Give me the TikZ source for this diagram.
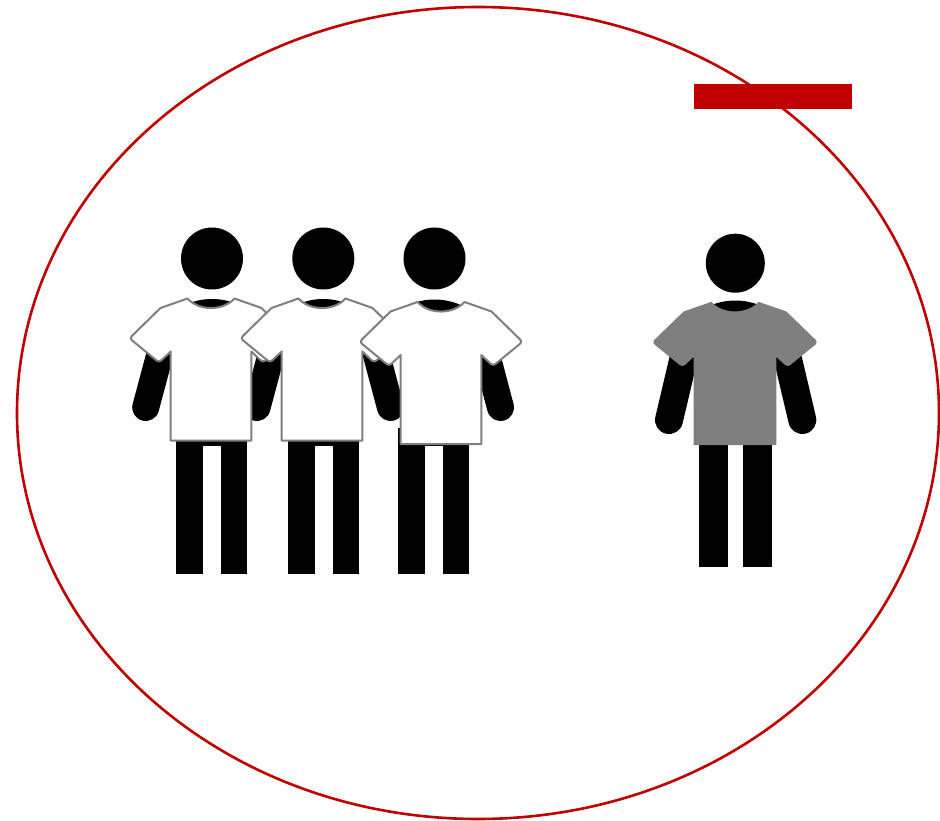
\documentclass[tikz,border=0pt]{standalone}
\definecolor{brickred}{HTML}{C00000}
\definecolor{shirtgray}{HTML}{7F7F7F}
\tikzset{
  limb/.style={black,line width=27pt,line cap=round},
  whiteshirt/.style={fill=white,draw=shirtgray,line width=2pt,line join=round},
  grayshirt/.style={fill=shirtgray,draw=shirtgray,line width=1.2pt,line join=round},
}
% #1 style, #2 x, #3 y, #4 xscale
\newcommand{\tshirt}[4]{%
  \path[#1,shift={(#2,#3)},xscale=#4]
    (-23.5,0) .. controls (-12,12.7) and (12,12.7) .. (23.5,0)
    -- (50.5,9.5) [rounded corners=3pt] -- (81.5,39.8) -- (52,64) [sharp corners] -- (40.3,53)
    -- (40.3,142) -- (-40.3,142) -- (-40.3,53)
    [rounded corners=3pt] -- (-52,64) -- (-81.5,39.8) [sharp corners] -- (-50.5,9.5) -- cycle;
}
% #1 x centre, #2 y top of shoulders
\newcommand{\shoulders}[2]{%
  \fill[black,shift={(#1,#2)}] (-42,14) .. controls (-25,3) and (-12,0) .. (0,0)
    .. controls (12,0) and (25,3) .. (42,14) -- (0,30) -- cycle;
}
% #1 left x of left leg, #2 hip top, #3 hip bottom, #4 leg bottom, #5 leg width, #6 total width
\newcommand{\legpair}[6]{%
  \fill[black] (#1,#2) rectangle ++(#6,#3-#2);
  \fill[black] (#1,#2) rectangle ++(#5,#4-#2);
  \fill[black] (#1+#6-#5,#2) rectangle ++(#5,#4-#2);
}
\begin{document}
\begin{tikzpicture}[x=1pt,y=-1pt]
\useasboundingbox (0,0) rectangle (940,821);
% outer ellipse and bar
\draw[brickred,line width=2.6pt] (478,413) ellipse [x radius=461,y radius=406];
\fill[brickred] (694,84) rectangle (852,109);
% heads
\fill[black] (212,258.5) circle (31);
\fill[black] (323.3,258.5) circle (31);
\fill[black] (434.5,258.5) circle (31);
\fill[black] (735.3,263.2) circle (29.5);
% bodies behind the shirts
\shoulders{212}{299}
\shoulders{323.3}{299}
\shoulders{434.5}{299.5}
\shoulders{735.3}{300.5}
% legs
\legpair{176.3}{428}{446}{573.5}{26.5}{71}
\legpair{288.3}{428}{446}{573.5}{26.5}{71}
\legpair{398.3}{428}{446}{573.5}{26.5}{71}
\legpair{698.7}{428}{445}{566.5}{29}{73}
% arms
\draw[limb] (162.4,345) -- (145.7,407.5);
\draw[limb] (273.7,345) -- (257,407.5);
\draw[limb] (373.8,345) -- (390.5,407.5);
\draw[limb] (484,345) -- (500.5,407.5);
\draw[limb,line width=28pt] (685.5,350) -- (669,420);
\draw[limb,line width=28pt] (785.8,350) -- (802.3,420);
% shirts
\tshirt{whiteshirt}{211}{298.5}{1}
\tshirt{whiteshirt}{322}{298.5}{1}
\tshirt{whiteshirt}{441}{302}{1}
\tshirt{grayshirt}{735}{302.5}{1.01}
\end{tikzpicture}
\end{document}
